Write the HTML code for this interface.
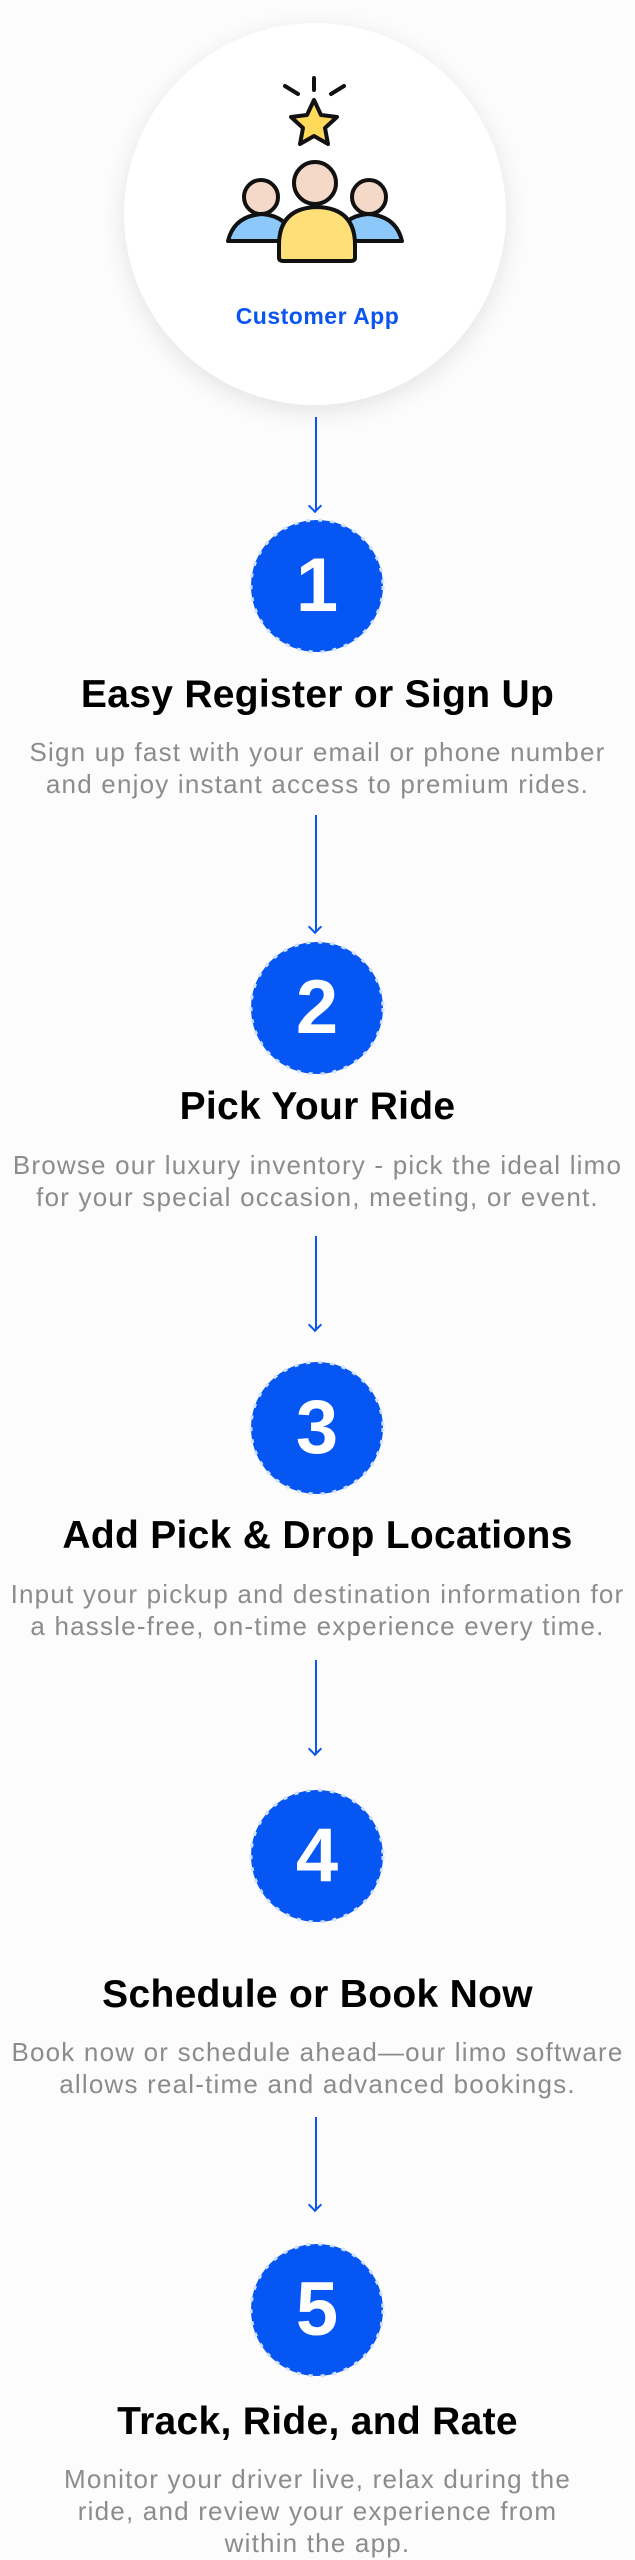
<!DOCTYPE html>
<html><head><meta charset="utf-8"><style>
html,body{margin:0;padding:0;background:#fcfcfc;}
body{width:635px;height:2560px;position:relative;overflow:hidden;font-family:"Liberation Sans",sans-serif;}
.big{position:absolute;left:124px;top:23px;width:382px;height:382px;border-radius:50%;background:#fff;box-shadow:0 6px 24px rgba(0,0,0,0.10);}
.ca{position:absolute;left:0;width:635px;top:303px;text-align:center;color:#0a55f0;font-weight:bold;font-size:23px;letter-spacing:0.5px;}
.step{position:absolute;left:249px;width:136px;height:136px;}
.step span{position:absolute;left:0;top:0;width:136px;height:136px;color:#fff;font-weight:bold;font-size:76px;line-height:136px;text-align:center;}
.t{position:absolute;left:0;width:635px;text-align:center;font-weight:bold;font-size:39px;line-height:44px;color:#000;letter-spacing:0.3px;}
.d{position:absolute;left:0;width:635px;text-align:center;font-size:26px;line-height:32px;color:#8c8c8c;letter-spacing:1.2px;}
.ar{position:absolute;left:315px;width:2px;background:#0a55f0;}
.ar:after{content:"";position:absolute;left:-5px;bottom:0;width:8px;height:8px;border-right:2px solid #0a55f0;border-bottom:2px solid #0a55f0;transform:rotate(45deg);transform-origin:center;}
</style></head><body>
<div class="big"></div>
<svg style="position:absolute;left:0;top:0" width="635" height="300">
 <g stroke="#111" stroke-width="4" stroke-linecap="round" fill="none">
  <line x1="314" y1="78" x2="314" y2="90"/>
  <line x1="285" y1="86" x2="298" y2="94"/>
  <line x1="344" y1="86" x2="331" y2="94"/>
 </g>
 <polygon points="314,100 321,115 337,117 325,128 328,144 314,136 300,144 303,128 291,117 307,115" fill="#ffd95a" stroke="#111" stroke-width="4" stroke-linejoin="round"/>
 <path d="M228,241 Q234,216 262,214 Q288,216 296,241 Z" fill="#8cc8fa" stroke="#111" stroke-width="4" stroke-linejoin="round"/>
 <path d="M402,241 Q396,216 368,214 Q342,216 334,241 Z" fill="#8cc8fa" stroke="#111" stroke-width="4" stroke-linejoin="round"/>
 <circle cx="261" cy="197" r="17" fill="#f5d9c8" stroke="#111" stroke-width="4"/>
 <circle cx="369" cy="197" r="17" fill="#f5d9c8" stroke="#111" stroke-width="4"/>
 <path d="M279,258 L279,245 Q279,208 317,207 Q355,208 355,245 L355,258 Q355,261 350,261 L284,261 Q279,261 279,258 Z" fill="#ffdf77" stroke="#111" stroke-width="4" stroke-linejoin="round"/>
 <circle cx="315" cy="183" r="21" fill="#f5d9c8" stroke="#111" stroke-width="4"/>
</svg>
<div class="ca">Customer App</div>

<div class="ar" style="top:417px;height:94px"></div>
<div class="step" style="top:518px"><svg width="136" height="136"><circle cx="68" cy="68" r="66" fill="#0656f4"/><circle cx="68" cy="68" r="66" fill="none" stroke="#d3e2fb" stroke-width="3" stroke-dasharray="4 8"/></svg><span>1</span></div>
<div class="t" style="top:673px">Easy Register or Sign Up</div>
<div class="d" style="top:736px">Sign up fast with your email or phone number<br>and enjoy instant access to premium rides.</div>

<div class="ar" style="top:815px;height:117px"></div>
<div class="step" style="top:940px"><svg width="136" height="136"><circle cx="68" cy="68" r="66" fill="#0656f4"/><circle cx="68" cy="68" r="66" fill="none" stroke="#d3e2fb" stroke-width="3" stroke-dasharray="4 8"/></svg><span>2</span></div>
<div class="t" style="top:1085px">Pick Your Ride</div>
<div class="d" style="top:1149px">Browse our luxury inventory - pick the ideal limo<br>for your special occasion, meeting, or event.</div>

<div class="ar" style="top:1236px;height:94px"></div>
<div class="step" style="top:1360px"><svg width="136" height="136"><circle cx="68" cy="68" r="66" fill="#0656f4"/><circle cx="68" cy="68" r="66" fill="none" stroke="#d3e2fb" stroke-width="3" stroke-dasharray="4 8"/></svg><span>3</span></div>
<div class="t" style="top:1514px">Add Pick &amp; Drop Locations</div>
<div class="d" style="top:1578px">Input your pickup and destination information for<br>a hassle-free, on-time experience every time.</div>

<div class="ar" style="top:1660px;height:94px"></div>
<div class="step" style="top:1788px"><svg width="136" height="136"><circle cx="68" cy="68" r="66" fill="#0656f4"/><circle cx="68" cy="68" r="66" fill="none" stroke="#d3e2fb" stroke-width="3" stroke-dasharray="4 8"/></svg><span>4</span></div>
<div class="t" style="top:1973px">Schedule or Book Now</div>
<div class="d" style="top:2036px">Book now or schedule ahead—our limo software<br>allows real-time and advanced bookings.</div>

<div class="ar" style="top:2117px;height:93px"></div>
<div class="step" style="top:2242px"><svg width="136" height="136"><circle cx="68" cy="68" r="66" fill="#0656f4"/><circle cx="68" cy="68" r="66" fill="none" stroke="#d3e2fb" stroke-width="3" stroke-dasharray="4 8"/></svg><span>5</span></div>
<div class="t" style="top:2400px">Track, Ride, and Rate</div>
<div class="d" style="top:2463px">Monitor your driver live, relax during the<br>ride, and review your experience from<br>within the app.</div>
</body></html>
